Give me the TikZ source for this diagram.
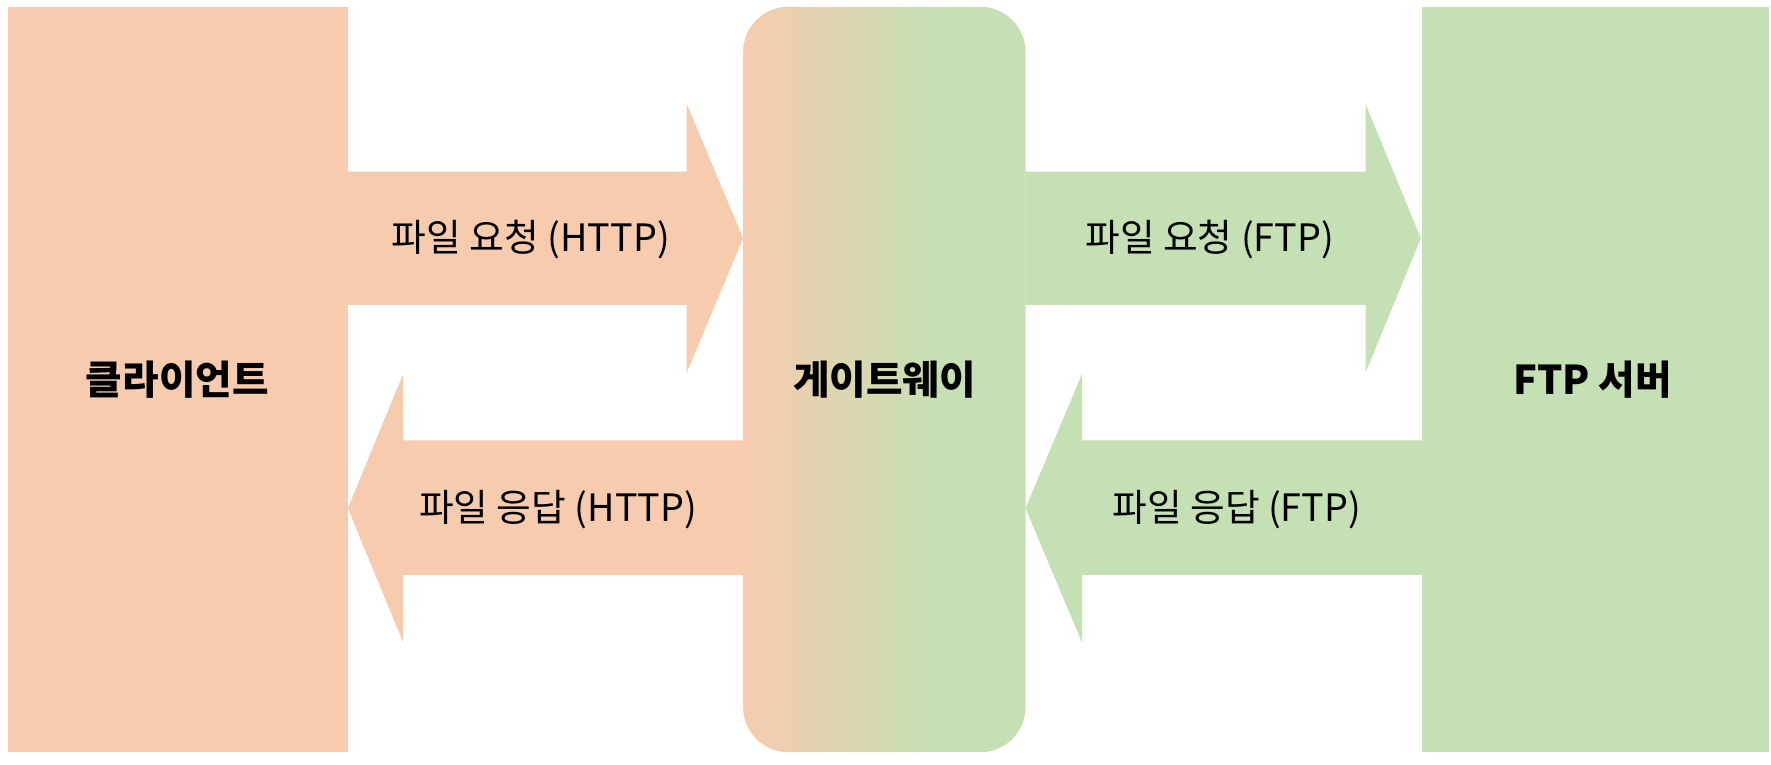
\documentclass[tikz,border=0pt]{standalone}
\usepackage{fontspec}
\setmainfont{Noto Sans CJK KR}
\definecolor{peach}{HTML}{F7CBAE}
\definecolor{leaf}{HTML}{C5E0B4}
\begin{document}
\begin{tikzpicture}[x=0.01cm,y=-0.01cm,font=\fontsize{9.5}{11}\selectfont]
\tikzset{lbl/.style={inner sep=0pt}, bold/.style={font=\fontsize{10}{12}\selectfont\bfseries}}
\useasboundingbox (0,0) rectangle (1568,677);

% boxes
\fill[peach] (7,6) rectangle (308,666);
\fill[leaf] (1259,6) rectangle (1566,666);
\begin{scope}
  \clip[rounded corners=0.4cm] (658,6) rectangle (908,666);
  \shade[left color=peach, right color=leaf] (658,6) rectangle (830,666);
  \fill[leaf] (829,6) rectangle (908,666);
\end{scope}

% arrows
\fill[peach] (308,152) -- (608,152) -- (608,92) -- (658,211) -- (608,330) -- (608,270) -- (308,270) -- cycle;
\fill[peach] (658,390) -- (357,390) -- (357,331) -- (308,450) -- (357,569) -- (357,509) -- (658,509) -- cycle;
\fill[leaf] (908,152) -- (1209,152) -- (1209,92) -- (1258,211) -- (1209,330) -- (1209,270) -- (908,270) -- cycle;
\fill[leaf] (1259,390) -- (958,390) -- (958,331) -- (908,450) -- (958,569) -- (958,509) -- (1259,509) -- cycle;

% labels
\node[lbl, bold] (client) at (157,336) {클라이언트};
\node[lbl, bold] (gateway) at (783,336) {게이트웨이};
\node[lbl, bold] (server) at (1410,336) {FTP 서버};
\node[lbl] (req1) at (470,212) {파일 요청 (HTTP)};
\node[lbl] (res1) at (494,451) {파일 응답 (HTTP)};
\node[lbl] (req2) at (1071,212) {파일 요청 (FTP)};
\node[lbl] (res2) at (1095,451) {파일 응답 (FTP)};
\end{tikzpicture}
\end{document}
